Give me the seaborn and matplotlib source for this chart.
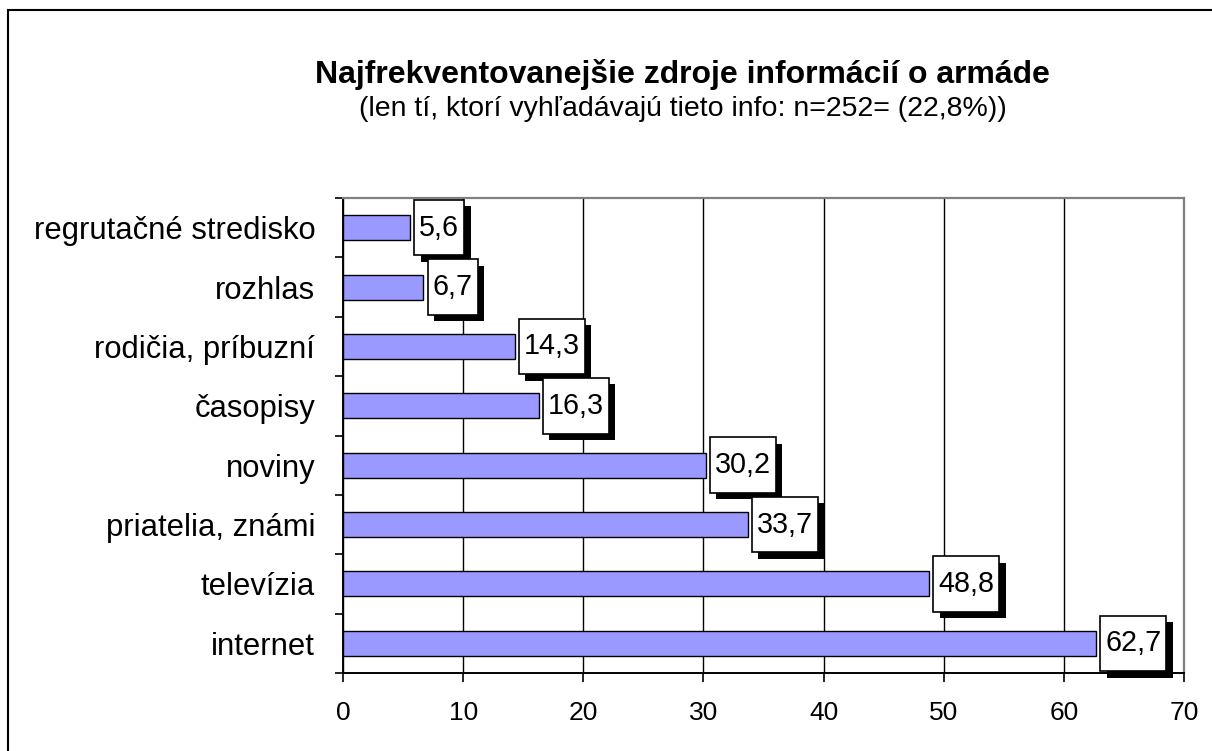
import matplotlib
matplotlib.use("Agg")
import matplotlib.pyplot as plt
import matplotlib.patheffects as pe
from matplotlib.patches import Rectangle
from matplotlib.path import Path
import numpy as np
import pandas as pd
import seaborn as sns

# chart data
categories = ["regrutačné stredisko", "rozhlas", "rodičia, príbuzní", "časopisy",
              "noviny", "priatelia, známi", "televízia", "internet"]
values = [5.6, 6.7, 14.3, 16.3, 30.2, 33.7, 48.8, 62.7]
x_ticks = [0, 10, 20, 30, 40, 50, 60, 70]

title = "Najfrekventovanejšie zdroje informácií o armáde"
subtitle = "(len tí, ktorí vyhľadávajú tieto info: n=252= (22,8%))"

BAR_COLOR = "#9999FF"


def label_box(x0, y0, width, height, mutation_size):
    """Square box with wider vertical padding, like Excel data labels."""
    px = 0.17 * mutation_size
    py = 0.48 * mutation_size
    x0, y0 = x0 - px, y0 - py
    x1, y1 = x0 + width + 2 * px, y0 + height + 2 * py
    return Path([(x0, y0), (x1, y0), (x1, y1), (x0, y1), (x0, y0)],
                [Path.MOVETO, Path.LINETO, Path.LINETO, Path.LINETO, Path.CLOSEPOLY])


def main():
    sns.set_theme(style="white")
    plt.rcParams["font.family"] = ["Liberation Sans", "DejaVu Sans"]
    plt.rcParams["text.color"] = "black"
    plt.rcParams["xtick.color"] = "black"
    plt.rcParams["ytick.color"] = "black"

    df = pd.DataFrame({"zdroj": categories, "percento": values})

    fig = plt.figure(figsize=(12.12, 7.51), dpi=100)
    ax = fig.add_axes([343 / 1212, 1 - 673 / 751, (1184 - 343) / 1212, (673 - 198) / 751])

    sns.barplot(data=df, x="percento", y="zdroj", orient="h", color=BAR_COLOR,
                saturation=1, width=0.42, edgecolor="black", linewidth=1.0, ax=ax)

    ax.set_xlim(0, 70)
    ax.set_ylim(len(categories) - 0.5, -0.5)
    ax.set_xticks(x_ticks)
    ax.set_xlabel("")
    ax.set_ylabel("")

    # gridlines and frame
    ax.set_axisbelow(True)
    ax.xaxis.grid(True, color="black", linewidth=1.0)
    ax.yaxis.grid(False)
    for side in ["left", "bottom"]:
        ax.spines[side].set_color("black")
        ax.spines[side].set_linewidth(1.4)
    for side in ["top", "right"]:
        ax.spines[side].set_color("#808080")
        ax.spines[side].set_linewidth(1.6)

    ax.tick_params(axis="x", which="major", direction="out", length=6.5, width=1.2,
                   color="black", labelcolor="black", labelsize=19, pad=14, bottom=True)
    ax.tick_params(axis="y", which="major", length=0, labelsize=22.3, pad=20,
                   labelcolor="black")
    ax.set_yticks(np.arange(-0.5, len(categories), 1.0), minor=True)
    ax.tick_params(axis="y", which="minor", direction="out", length=5.8, width=1.2,
                   color="black", left=True)

    # data labels in boxes with drop shadow
    for i, v in enumerate(values):
        t = ax.annotate(f"{v:.1f}".replace(".", ","), xy=(v, i), xytext=(6.5, 0),
                        textcoords="offset points", ha="left", va="center",
                        fontsize=20.7, color="black", zorder=5,
                        bbox=dict(boxstyle=label_box, facecolor="white",
                                  edgecolor="black", linewidth=1.2))
        t.get_bbox_patch().set_path_effects([
            pe.SimplePatchShadow(offset=(4.6, -4.6), shadow_rgbFace="black", alpha=1.0),
            pe.Normal()])

    fig.text(682 / 1212, 1 - 75 / 751, title, ha="center", va="center",
             fontsize=23, fontweight="bold", color="black")
    fig.text(683 / 1212, 1 - 109 / 751, subtitle, ha="center", va="center",
             fontsize=20.5, color="black")

    # outer chart border
    fig.add_artist(Rectangle((8 / 1212, -0.2), 1.5, 0.2 + 1 - 10 / 751,
                             transform=fig.transFigure, fill=False,
                             edgecolor="black", linewidth=1.5))

    fig.savefig("out.png", dpi=100)
    plt.close(fig)


if __name__ == "__main__":
    main()
